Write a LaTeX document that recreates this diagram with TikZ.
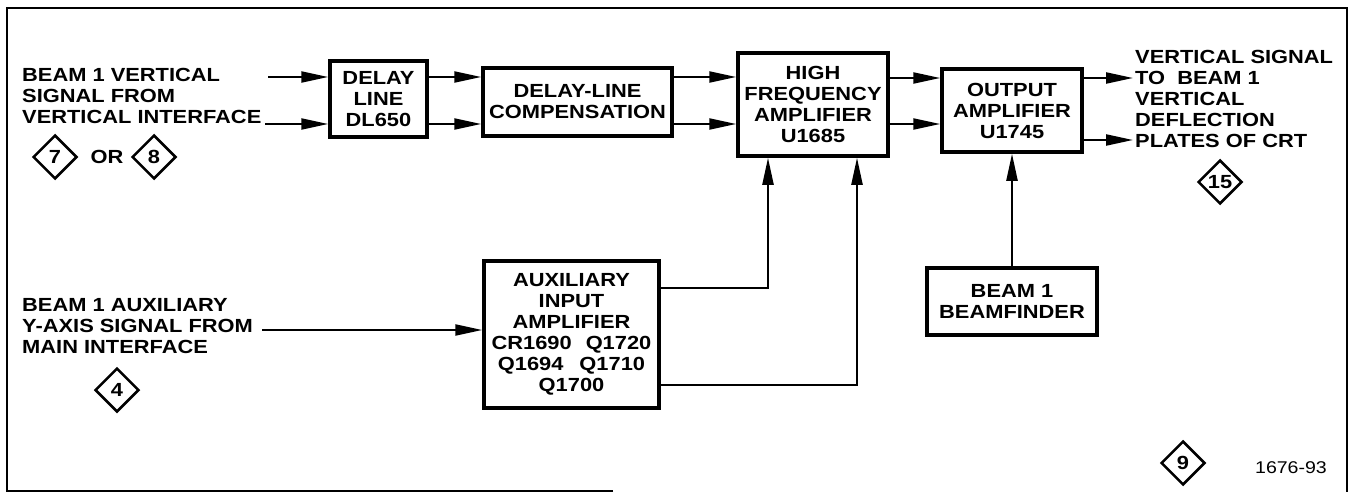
\documentclass[tikz,border=0pt]{standalone}
\usepackage{fontspec}
\newfontfamily\labfont[FakeStretch=1.15]{Liberation Sans}
\usetikzlibrary{arrows.meta,shapes.geometric}
\begin{document}
\begin{tikzpicture}[x=1pt,y=-1pt,
  every node/.style={font=\labfont\bfseries\fontsize{19}{21}\selectfont, inner sep=0pt},
  blk/.style={draw, line width=3.5pt, align=center},
  conn/.style={line width=2.2pt},
  arr/.style={conn, -{Triangle[length=27pt,width=11pt]}},
  dmd/.style={draw, diamond, line width=2.5pt, minimum width=44pt, minimum height=44pt},
  lab/.style={align=left, anchor=west}]
\useasboundingbox (0,0) rectangle (1355,492);
% frame
\draw[line width=2pt] (613,491) -- (7,491) -- (7,8) -- (1347,8) -- (1347,492);
% blocks
\node[blk, minimum width=97pt, minimum height=76pt] (dl) at (378.5,99) {DELAY\\LINE\\DL650};
\node[blk, minimum width=189pt, minimum height=68pt] (dlc) at (577.5,102) {DELAY-LINE\\COMPENSATION};
\node[blk, minimum width=150pt, minimum height=103pt] (hf) at (813,104.5) {HIGH\\FREQUENCY\\AMPLIFIER\\U1685};
\node[blk, minimum width=140pt, minimum height=83pt] (oa) at (1012,110.5) {OUTPUT\\AMPLIFIER\\U1745};
\node[blk, minimum width=170pt, minimum height=67pt] (bf) at (1012,301.5) {BEAM 1\\BEAMFINDER};
\node[blk, minimum width=175pt, minimum height=147pt] (aux) at (571.5,334.5) {AUXILIARY\\INPUT\\AMPLIFIER\\CR1690\hspace{14pt}Q1720\\Q1694\hspace{16pt}Q1710\\Q1700};
% labels
\node[lab] (t1) at (22,96) {BEAM 1 VERTICAL\\SIGNAL FROM\\VERTICAL INTERFACE};
\node[lab] (t2) at (1135,99) {VERTICAL SIGNAL\\TO\ \ BEAM 1\\VERTICAL\\DEFLECTION\\PLATES OF CRT};
\node[lab] (t3) at (22,326) {BEAM 1 AUXILIARY\\Y-AXIS SIGNAL FROM\\MAIN INTERFACE};
\node[dmd] (d7) at (55,157) {7};
\node (or) at (107,157) {OR};
\node[dmd] (d8) at (154,157) {8};
\node[dmd] (d15) at (1220,182) {15};
\node[dmd] (d4) at (117,390) {4};
\node[dmd] (d9) at (1183,463) {9};
\node[font=\labfont\fontsize{17}{20}\selectfont] (code) at (1291,468) {1676-93};
% free ends
\coordinate (i1) at (268,77);
\coordinate (i2) at (265,124);
\coordinate (o1) at (1133,78);
\coordinate (o2) at (1133,140);
\coordinate (i3) at (262,330);
\coordinate (a1) at (768,288);
\coordinate (a2) at (857,385);
% connectors
\draw[arr] (i1) -- (i1 -| dl.west);
\draw[arr] (i2) -- (i2 -| dl.west);
\draw[arr] (dl.east |- i1) -- (dlc.west |- i1);
\draw[arr] (dl.east |- i2) -- (dlc.west |- i2);
\draw[arr] (dlc.east |- i1) -- (hf.west |- i1);
\draw[arr] (dlc.east |- i2) -- (hf.west |- i2);
\draw[arr] (hf.east |- o1) -- (oa.west |- o1);
\draw[arr] (hf.east |- i2) -- (oa.west |- i2);
\draw[arr] (oa.east |- o1) -- (o1);
\draw[arr] (oa.east |- o2) -- (o2);
\draw[arr] (i3) -- (i3 -| aux.west);
\draw[arr] (aux.east |- a1) -| (hf.south -| a1);
\draw[arr] (aux.east |- a2) -| (hf.south -| a2);
\draw[arr] (bf.north) -- (oa.south);
\end{tikzpicture}
\end{document}
